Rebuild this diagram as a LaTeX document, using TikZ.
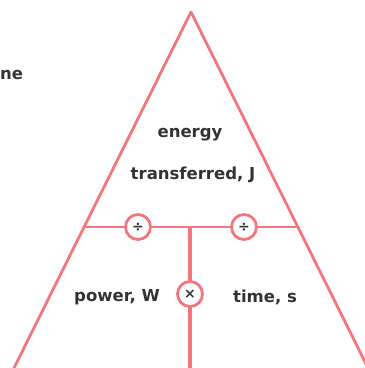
\documentclass[tikz,border=0pt]{standalone}
\usepackage{fontspec}
\setmainfont{DejaVu Sans}
\definecolor{tri}{HTML}{F2767C}
\definecolor{ink}{HTML}{333333}
\begin{document}
\begin{tikzpicture}[x=1pt,y=-1pt,
  edge/.style={draw=tri,line width=2.8pt,line cap=round},
  opcirc/.style={circle,draw=tri,line width=2.8pt,fill=white,minimum size=25pt,inner sep=0pt,text=ink,font=\bfseries\fontsize{14}{14}\selectfont},
  lbl/.style={text=ink,font=\bfseries\fontsize{16.5}{18}\selectfont,inner sep=0pt}]
\useasboundingbox (0,0) rectangle (365,368);
% triangle outline and dividers
\coordinate (apex) at (191,12);
\coordinate (bl) at (13,370);
\coordinate (br) at (369,370);
\coordinate (ml) at (84.5,227);
\coordinate (mr) at (297.5,227);
\coordinate (mtop) at (190,227);
\coordinate (mbot) at (190,372);
\draw[edge,line join=round] (bl) -- (apex) -- (br);
\draw[draw=tri!35,line width=1pt] (bl) -- (br);
\draw[edge] (ml) -- (mr);
\draw[draw=tri,line width=3.4pt] (mtop) -- (mbot);
% operators
\node[opcirc] (divl) at (138,227) {÷};
\node[opcirc] (divr) at (244,227) {÷};
\node[opcirc] (mul) at (190,294) {×};
% labels
\node[lbl] (energy) at (190,135) {energy};
\node[lbl] (transf) at (193,175) {transferred, J};
\node[lbl] (power) at (117,297) {power, W};
\node[lbl] (time) at (265,297) {time, s};
\node[lbl,anchor=west] (cut) at (0,75) {ne};
\end{tikzpicture}
\end{document}
